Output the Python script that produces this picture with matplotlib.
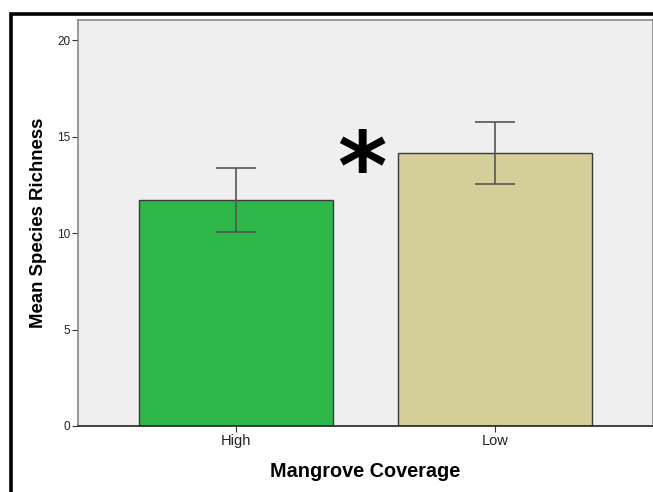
import matplotlib
matplotlib.use("Agg")
import matplotlib.pyplot as plt
from matplotlib.patches import Rectangle

categories = ["High", "Low"]
means = [11.72, 14.14]
errors = [1.66, 1.60]
bar_colors = ["#2eb84a", "#d4cf98"]
yticks = [0, 5, 10, 15, 20]

W, H = 653, 492
fig = plt.figure(figsize=(W / 100, H / 100), dpi=100)
fig.patch.set_facecolor("white")

# plot area in pixel coordinates
left, right, top, bottom = 78, 653, 20, 426
ax = fig.add_axes([left / W, 1 - bottom / H, (right - left) / W, (bottom - top) / H])
ax.set_facecolor("#efefef")

x = list(range(len(categories)))
ax.bar(x, means, width=0.75, color=bar_colors, edgecolor="#3a3a3a", linewidth=1.0, zorder=2)
ax.errorbar(x, means, yerr=errors, fmt="none", ecolor="#555555", elinewidth=1.2,
            capsize=14.5, capthick=1.2, zorder=3)

ax.set_xlim(-0.61, 1.61)
ax.set_ylim(0, 21.05)
ax.set_xticks(x)
ax.set_xticklabels(categories, fontsize=10.5, family="Liberation Sans", color="#222222")
ax.set_yticks(yticks)
ax.set_yticklabels([str(t) for t in yticks], fontsize=8.5, family="Liberation Sans", color="#222222")
ax.tick_params(axis="both", length=4, width=0.8, color="#333333", pad=1.5)

for side in ["left", "top", "right"]:
    ax.spines[side].set_color("#888888")
    ax.spines[side].set_linewidth(1.2)
ax.spines["bottom"].set_color("#222222")
ax.spines["bottom"].set_linewidth(1.2)

ax.set_ylabel("Mean Species Richness", fontsize=13.4, fontweight="bold",
              family="Liberation Sans", labelpad=7)
ax.set_xlabel("Mangrove Coverage", fontsize=14.3, fontweight="bold",
              family="Liberation Sans", labelpad=10)

# significance marker between the bars
ax.text(0.485, 13.1, "*", fontsize=68, fontweight="bold", family="DejaVu Sans",
        ha="center", va="center", color="black", zorder=4)

# thick frame around the figure
fig.patches.append(Rectangle((11 / W, -0.1), 1.2, 1 - 14 / H + 0.1,
                             transform=fig.transFigure, fill=False,
                             edgecolor="black", linewidth=2.6, zorder=10))

fig.savefig("out.png", dpi=100)
